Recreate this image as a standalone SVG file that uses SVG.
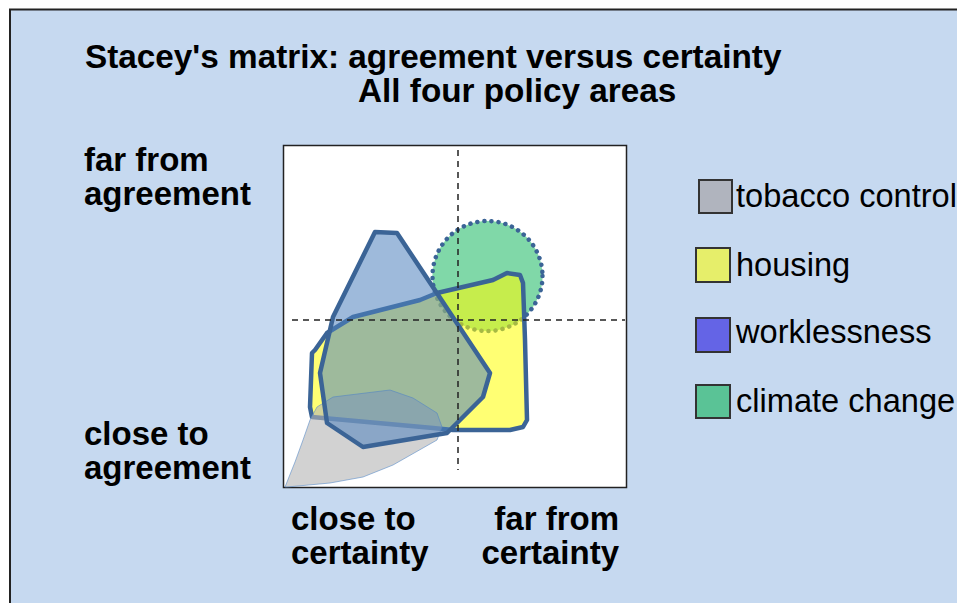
<svg xmlns="http://www.w3.org/2000/svg" width="957" height="603" viewBox="0 0 957 603">
<style>
.b{font-family:"Liberation Sans",Arial,sans-serif;font-weight:bold;font-size:33px;fill:#000}
.t{font-family:"Liberation Sans",Arial,sans-serif;font-weight:bold;font-size:33.3px;fill:#000}
.r{font-family:"Liberation Sans",Arial,sans-serif;font-size:32.6px;fill:#000}
.dash{stroke:#222;stroke-width:1.5;stroke-dasharray:6,5;fill:none}
.edge{stroke:#3b6496;stroke-width:4.5;stroke-linejoin:round}
.key{stroke:#333;stroke-width:2}
</style>
<rect x="0" y="0" width="957" height="603" fill="#fff"/>
<rect x="10" y="9.5" width="960" height="600" fill="#c6d9f0" stroke="#222" stroke-width="2"/>
<g id="title">
<text class="t" x="85" y="68">Stacey's matrix: agreement versus certainty</text>
<text class="t" x="358" y="102">All four policy areas</text>
</g>
<g id="axis-labels">
<text class="b" x="84" y="171">far from</text>
<text class="b" x="84" y="205">agreement</text>
<text class="b" x="84" y="445">close to</text>
<text class="b" x="84" y="479">agreement</text>
<text class="b" x="291" y="530">close to</text>
<text class="b" x="291" y="564">certainty</text>
<text class="b" x="619" y="530" text-anchor="end">far from</text>
<text class="b" x="619" y="564" text-anchor="end">certainty</text>
</g>
<g id="plot">
<rect x="283.5" y="145.5" width="343" height="342" fill="#fff" stroke="#222" stroke-width="1.5"/>
<g id="climate-change">
<circle cx="487.5" cy="276" r="55" fill="#80d8a8" stroke="#3b6496" stroke-width="4.5" stroke-dasharray="0.1,7" stroke-linecap="round"/>
</g>
<g id="housing">
<path class="edge" fill="#ffff00" fill-opacity="0.55" d="M315,350 L327,333 L353,317 L420,300 L437,293 L493,280 L507,273 L520,275 L523,283 L525,340 L527,420 L523,427 L510,430 L453,430 L433,428 L323,418 L312,417 L310,407 L312,353 Z"/>
</g>
<g id="tobacco-control">
<path fill="#b4b4b4" fill-opacity="0.6" stroke="#5a8cc8" stroke-opacity="0.6" stroke-width="1" d="M285,487 L295,462 L303,440 L310,420 L317,407 L333,397 L390,390 L413,398 L437,413 L442,427 L437,440 L393,465 L363,477 L330,483 L287,487 Z"/>
</g>
<g id="worklessness">
<path class="edge" fill="#4f81bd" fill-opacity="0.55" d="M375,232 L397,233 L490,373 L483,397 L447,433 L363,447 L327,423 L320,373 L333,317 Z"/>
</g>
<g id="quadrants">
<line class="dash" x1="458" y1="150" x2="458" y2="470"/>
<line class="dash" x1="292" y1="320" x2="625" y2="320"/>
</g>
</g>
<g id="legend">
<g id="legend-tobacco"><rect class="key" x="699" y="180" width="33" height="33" fill="#b0b4be"/><text class="r" x="736" y="207">tobacco control</text></g>
<g id="legend-housing"><rect class="key" x="696" y="248" width="34" height="34" fill="#e6ee6a"/><text class="r" x="736" y="276">housing</text></g>
<g id="legend-worklessness"><rect class="key" x="696" y="318" width="34" height="34" fill="#6464e6"/><text class="r" x="736" y="343">worklessness</text></g>
<g id="legend-climate"><rect class="key" x="696" y="385" width="34" height="33" fill="#5ac396"/><text class="r" x="736" y="412">climate change</text></g>
</g>
</svg>
